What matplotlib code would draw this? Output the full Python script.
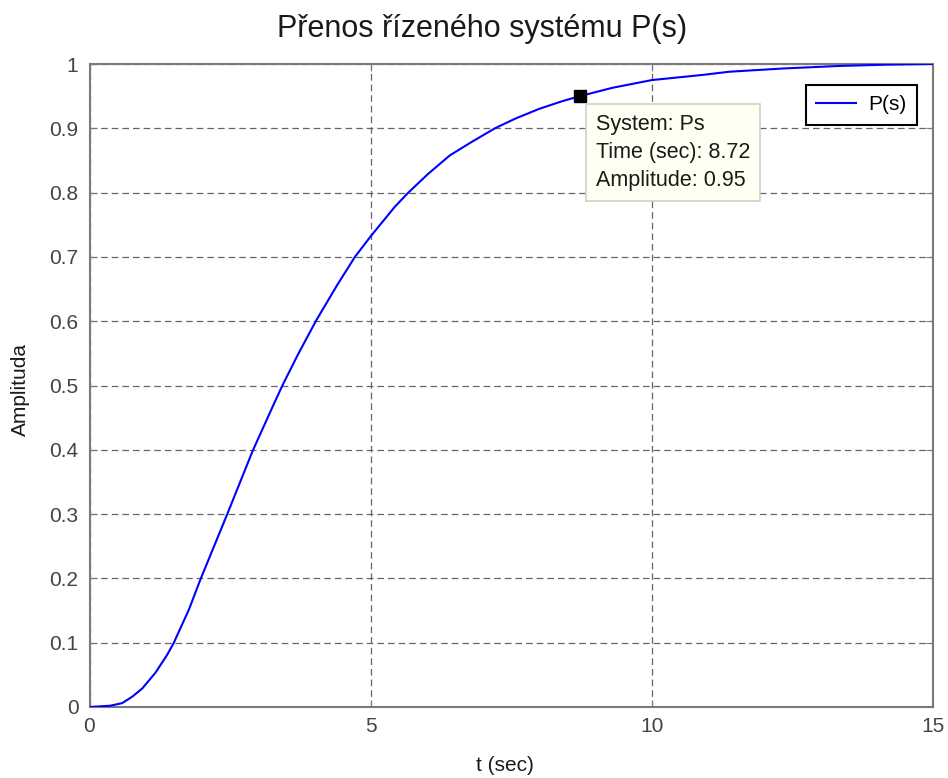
import matplotlib
matplotlib.use("Agg")
import matplotlib.pyplot as plt

plt.rcParams['font.family'] = ['Liberation Sans', 'DejaVu Sans']

title = "Přenos řízeného systému P(s)"
xlabel = "t (sec)"
ylabel = "Amplituda"
legend_label = "P(s)"

t = [0, 0.37, 0.58, 0.76, 0.94, 1.17, 1.38, 1.50, 1.77, 1.98, 2.45, 2.90, 3.22,
     3.43, 3.70, 4.03, 4.41, 4.72, 5.0, 5.43, 5.67, 6.02, 6.41, 6.80, 7.21, 7.57,
     7.99, 8.40, 8.72, 9.3, 10.0, 10.9, 11.38, 12.33, 13.34, 14.2, 15.0]
amp = [0, 0.002, 0.006, 0.016, 0.029, 0.053, 0.081, 0.1, 0.152, 0.2, 0.3, 0.398, 0.46,
       0.5, 0.547, 0.601, 0.657, 0.7, 0.732, 0.778, 0.8, 0.829, 0.858, 0.879, 0.9, 0.915,
       0.93, 0.942, 0.95, 0.963, 0.975, 0.983, 0.988, 0.993, 0.997, 0.999, 1.0]

tip_t = 8.72
tip_amp = 0.95
tip_lines = ["System: Ps", "Time (sec): 8.72", "Amplitude: 0.95"]

xticks = [0, 5, 10, 15]
yticks = [0, 0.1, 0.2, 0.3, 0.4, 0.5, 0.6, 0.7, 0.8, 0.9, 1]
ytick_labels = ["0", "0.1", "0.2", "0.3", "0.4", "0.5", "0.6", "0.7", "0.8", "0.9", "1"]

FS = 15

fig = plt.figure(figsize=(9.48, 7.78), dpi=100)
ax = fig.add_axes([89.5/948, 1-707/778, (933-89.5)/948, (707-64)/778])

ax.plot(t, amp, color='#0000ff', lw=1.5, label=legend_label, zorder=3)
ax.plot([tip_t], [tip_amp], marker='s', color='black', ms=9, zorder=4)

ax.set_xlim(0, 15)
ax.set_ylim(0, 1)
ax.set_xticks(xticks)
ax.set_xticklabels([str(v) for v in xticks])
ax.set_yticks(yticks)
ax.set_yticklabels(ytick_labels)
ax.grid(True, color='#666666', linestyle=(0, (5.3, 3.2)), lw=0.9)
for s in ax.spines.values():
    s.set_color('#7a7a7a')
    s.set_linewidth(1.5)
ax.tick_params(direction='in', length=5, color='#7a7a7a', labelsize=FS,
               labelcolor='#444444', top=True, right=True)
ax.tick_params(axis='y', pad=8)
ax.tick_params(axis='x', pad=7)

fig.text(482.5/948, 1-36.7/778, title, ha='center', va='baseline', fontsize=22, color='#1a1a1a')
fig.text(505/948, 1-771/778, xlabel, ha='center', va='baseline', fontsize=FS, color='#1a1a1a')
fig.text(20/948, 1-390/778, ylabel, ha='center', va='center', rotation=90, fontsize=FS, color='#1a1a1a')

ax.annotate("\n".join(tip_lines), xy=(tip_t, tip_amp), xytext=(11.5, -12.5),
            textcoords='offset points', ha='left', va='top',
            fontsize=15.5, color='#1a1a1a', linespacing=1.45, zorder=5,
            bbox=dict(boxstyle='square,pad=0.45', fc='#fffff2', ec='#cfcfcf', lw=1.2))

leg = ax.legend(loc='upper right', bbox_to_anchor=(1 - 16/843.5, 1 - 21/643),
                borderaxespad=0, fontsize=FS, frameon=True, fancybox=False,
                handlelength=1.9, handletextpad=0.6, borderpad=0.5)
leg.get_frame().set_edgecolor('black')
leg.get_frame().set_linewidth(1.5)
leg.get_frame().set_alpha(1)

fig.savefig("out.png", dpi=100)
